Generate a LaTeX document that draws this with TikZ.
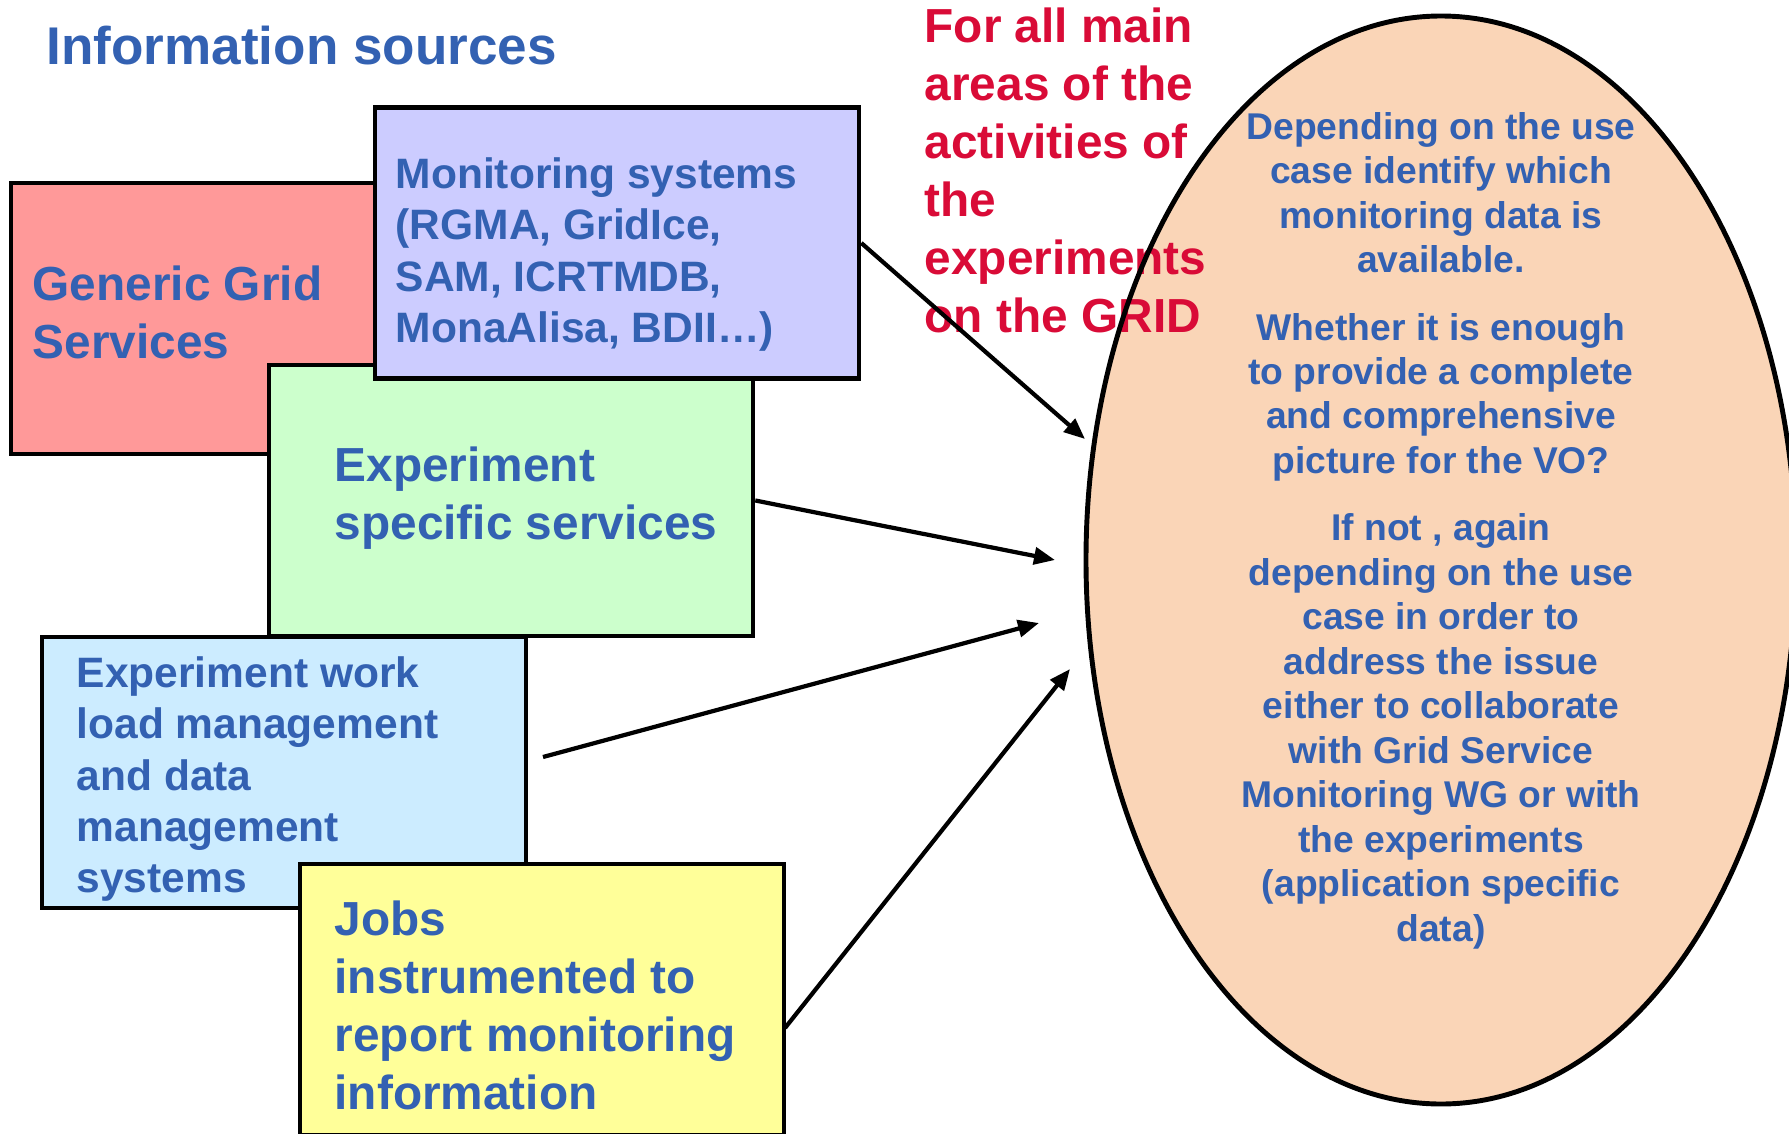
\documentclass[tikz,border=0pt]{standalone}
\usepackage{fontspec}
\setmainfont{Liberation Sans}
\usepackage{tikz}
\usetikzlibrary{shapes.geometric,arrows.meta}

\definecolor{txtblue}{RGB}{51,97,178}
\definecolor{txtred}{RGB}{217,11,55}
\definecolor{boxred}{RGB}{255,153,153}
\definecolor{boxlilac}{RGB}{204,204,255}
\definecolor{boxgreen}{RGB}{204,255,204}
\definecolor{boxcyan}{RGB}{204,236,255}
\definecolor{boxyellow}{RGB}{255,255,153}
\definecolor{peach}{RGB}{250,213,183}

\begin{document}
\begin{tikzpicture}[
		srcbox/.style={draw, line width=1.3pt, minimum width=4.84cm, minimum height=2.71cm, inner sep=0pt},
		bigtxt/.style={anchor=west, align=left, text=txtblue, inner sep=0pt, font=\bfseries\fontsize{13.6}{16.5}\selectfont},
		smalltxt/.style={anchor=west, align=left, text=txtblue, inner sep=0pt, font=\bfseries\fontsize{12.1}{14.6}\selectfont},
		feed/.style={-{Triangle[length=2.1mm,width=1.7mm]}, line width=1.2pt}
	]
		\useasboundingbox (0,0) rectangle (17.89,11.33);
		\node[anchor=base west, text=txtblue, inner sep=0pt, font=\bfseries\fontsize{15.1}{18}\selectfont] (title) at (0.46,10.69) {Information sources};

		% the sources
		\node[srcbox, fill=boxred] (generic) at (2.53,8.145) {};
		\node[bigtxt] (genericText) at (0.32,8.21) {Generic Grid\\Services};
		\node[srcbox, fill=boxgreen] (expspec) at (5.11,6.325) {};
		\node[bigtxt] (expspecText) at (3.34,6.35) {Experiment\\specific services};
		\node[srcbox, fill=boxlilac] (monitor) at (6.17,8.90) {};
		\node[smalltxt] (monitorText) at (3.95,8.785) {Monitoring systems\\(RGMA, GridIce,\\SAM, ICRTMDB,\\MonaAlisa, BDII…)};
		\node[srcbox, fill=boxcyan] (workload) at (2.84,3.605) {};
		\node[smalltxt] (workloadText) at (0.76,3.54) {Experiment work\\load management\\and data\\management\\systems};
		\node[srcbox, fill=boxyellow] (jobs) at (5.42,1.335) {};
		\node[bigtxt] (jobsText) at (3.34,1.28) {Jobs\\instrumented to\\report monitoring\\information};

		% the oval
		\node[ellipse, fill=peach, minimum width=7.1cm, minimum height=10.88cm, inner sep=0pt] (oval) at (14.41,5.73) {};
		\node[anchor=west, align=left, text=txtred, inner sep=0pt, font=\bfseries\fontsize{13.6}{16.5}\selectfont] (areas) at (9.24,9.63) {For all main\\areas of the\\activities of\\the\\experiments\\on the GRID};
		\draw[line width=1.4pt] (oval.center) ellipse [x radius=3.55, y radius=5.44];
		\node[align=center, text=txtblue, inner sep=0pt, font=\bfseries\fontsize{10.6}{12.65}\selectfont] (question) at (14.41,6.025) {Depending on the use\\case identify which\\monitoring data is\\available.\\[0.23cm]
			Whether it is enough\\to provide a complete\\and comprehensive\\picture for the VO?\\[0.23cm]
			If not , again\\depending on the use\\case in order to\\address the issue\\either to collaborate\\with Grid Service\\Monitoring WG or with\\the experiments\\(application specific\\data)};

		\coordinate (tipA) at (10.85,6.94);
		\coordinate (tipB) at (10.55,5.73);
		\coordinate (tipC) at (10.39,5.10);
		\coordinate (tipD) at (10.70,4.64);
		\coordinate (tailC) at (5.43,3.76);
		\coordinate (tailD) at (7.85,1.05);
		\draw[feed] (monitor.east) -- (tipA);
		\draw[feed] (expspec.east) -- (tipB);
		\draw[feed] (tailC) -- (tipC);
		\draw[feed] (tailD) -- (tipD);
	\end{tikzpicture}
\end{document}
